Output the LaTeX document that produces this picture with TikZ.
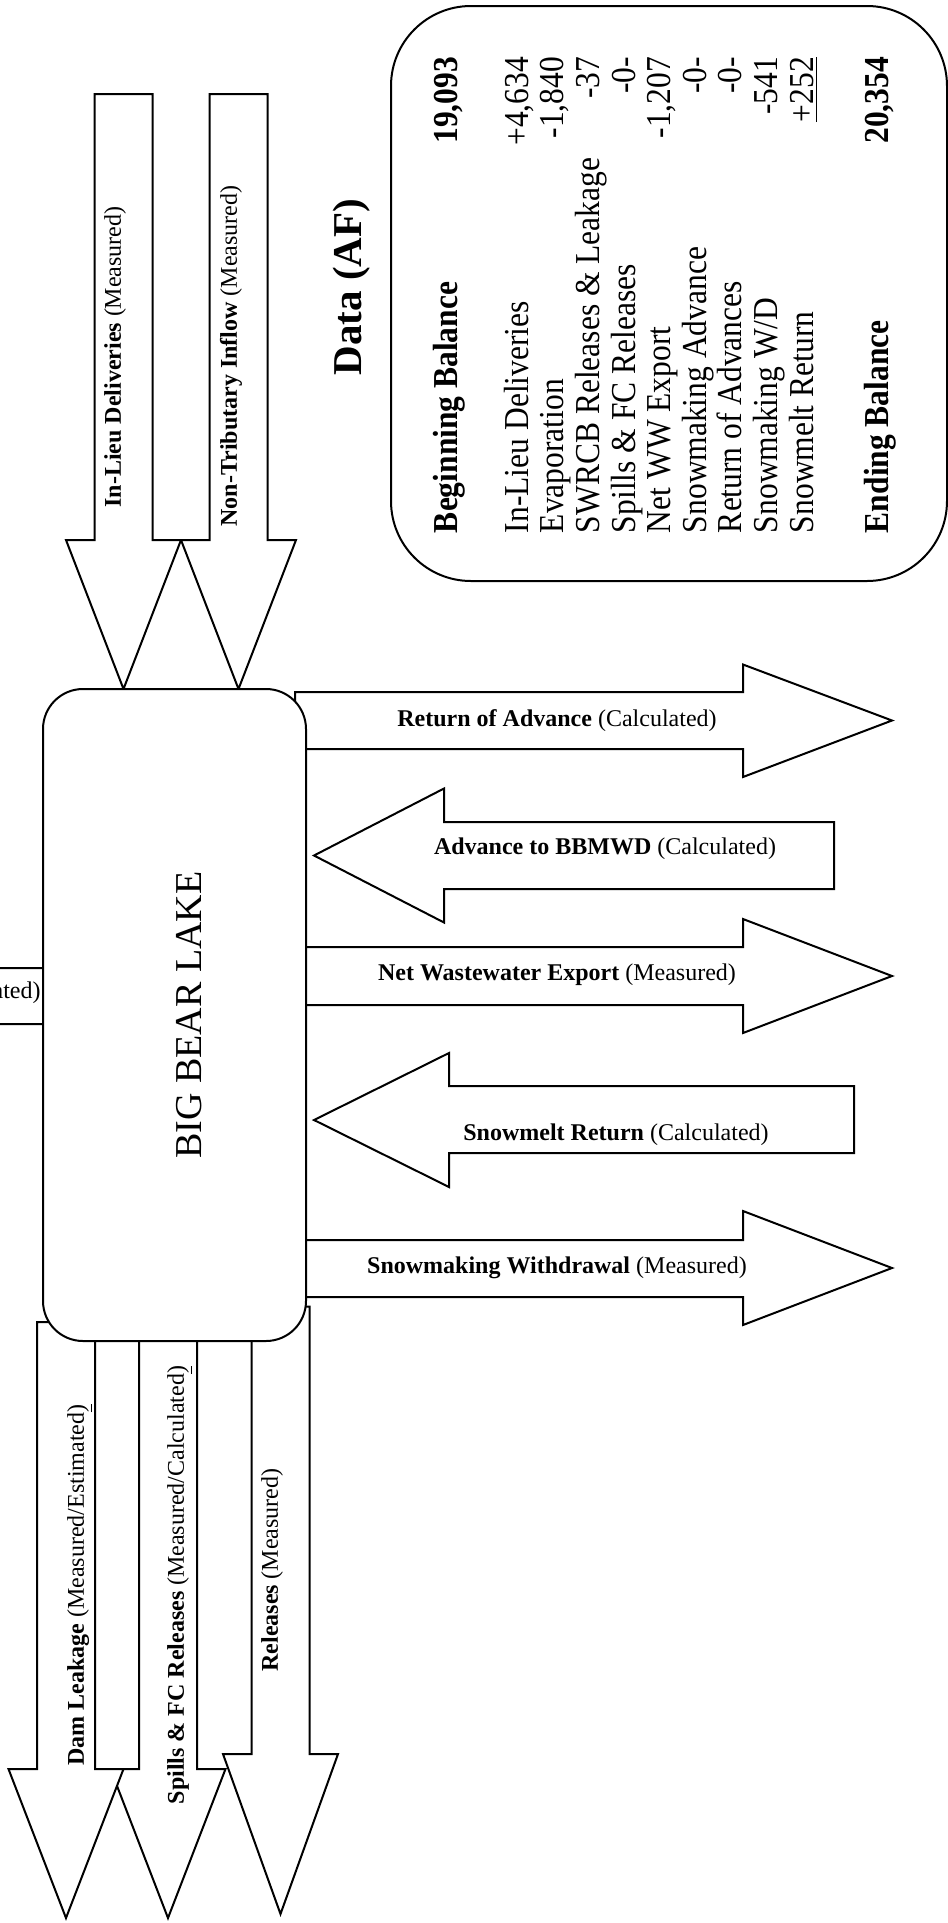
\documentclass[tikz,border=0pt]{standalone}
\usepackage{fontspec}
\setmainfont{Liberation Serif}
\newfontfamily\tablefont[FakeStretch=0.9]{Liberation Serif}

\begin{document}
\begin{tikzpicture}[x=0.5pt, y=-0.5pt,
  flow/.style={draw, fill=white, line width=1pt},
  panel/.style={draw, fill=white, line width=1pt, inner sep=0pt},
  lbl/.style={font=\fontsize{12}{14}\selectfont, inner sep=0pt}]
\useasboundingbox (0,0) rectangle (948,1923);
\clip (0,0) rectangle (948,1923);

% Flows into the lake
\draw[flow] (60,968) -- (-200,968) -- (-200,940) -- (-349,996) -- (-200,1052) -- (-200,1024) -- (60,1024) -- cycle;
\draw[flow] (94.5,94) -- (152.5,94) -- (152.5,540) -- (181,540) -- (123.5,689) -- (66,540) -- (94.5,540) -- cycle;
\draw[flow] (209.5,94) -- (267.5,94) -- (267.5,540) -- (296,540) -- (238.5,689) -- (181,540) -- (209.5,540) -- cycle;
\draw[flow] (834,822) -- (444,822) -- (444,788.5) -- (314,855.5) -- (444,922.5) -- (444,889) -- (834,889) -- cycle;
\draw[flow] (854,1086) -- (449,1086) -- (449,1053) -- (314,1120) -- (449,1187) -- (449,1153) -- (854,1153) -- cycle;

% Flows out of the lake
\draw[flow] (295,692) -- (743,692) -- (743,664.5) -- (892,720.5) -- (743,777) -- (743,749) -- (295,749) -- cycle;
\draw[flow] (295,947) -- (743,947) -- (743,919) -- (892,976) -- (743,1033) -- (743,1005) -- (295,1005) -- cycle;
\draw[flow] (295,1240) -- (743,1240) -- (743,1211) -- (892,1268) -- (743,1325) -- (743,1297) -- (295,1297) -- cycle;
\draw[flow] (139,1300) -- (197,1300) -- (197,1769) -- (225.5,1769) -- (168,1918) -- (110.5,1769) -- (139,1769) -- cycle;
\draw[flow] (37,1322) -- (95,1322) -- (95,1769) -- (123.5,1769) -- (66,1918) -- (8.5,1769) -- (37,1769) -- cycle;
\draw[flow] (251.5,1306.5) -- (309.5,1306.5) -- (309.5,1754) -- (338,1754) -- (280.5,1914) -- (223,1754) -- (251.5,1754) -- cycle;

% Lake and data panel
\node[panel, rounded corners=20pt, minimum width=131.5pt, minimum height=326pt] (lake) at (174.5,1015) {};
\node[rotate=90, inner sep=0pt, font=\fontsize{19}{22}\selectfont] (lakename) at (189,1015) {BIG BEAR LAKE};
\node[panel, rounded corners=40pt, minimum width=278pt, minimum height=287.5pt] (data) at (669,293.5) {};
\node[rotate=90, inner sep=0pt, font=\fontsize{20.5}{24}\selectfont\bfseries] (datatitle) at (352,287) {Data (AF)};
\node[rotate=90, inner sep=0pt, font=\tablefont\fontsize{17.5}{17.8}\selectfont] (datatable) at (666,295)
{\begin{tabular*}{238pt}{@{}l@{\extracolsep{\fill}}r@{}}
\textbf{Beginning Balance} & \textbf{19,093}\\[17.5pt]
In-Lieu Deliveries & +4,634\\
Evaporation & -1,840\\
SWRCB Releases \& Leakage & -37\\
Spills \& FC Releases & -0-\\
Net WW Export & -1,207\\
Snowmaking Advance & -0-\\
Return of Advances & -0-\\
Snowmaking W/D & -541\\
Snowmelt Return & \underline{+252}\\[20pt]
\textbf{Ending Balance} & \textbf{20,354}
\end{tabular*}};

% Flow labels
\path[every node/.style={lbl}]
(41,993) node[anchor=east] (evap) {\textbf{Evaporation} (Calculated)}
(115,357) node[rotate=90] (inlieu) {\textbf{In-Lieu Deliveries} (Measured)}
(231,356) node[rotate=90] (nontrib) {\textbf{Non-Tributary Inflow} (Measured)}
(557,721) node (retadv) {\textbf{Return of Advance} (Calculated)}
(605,849) node (advbbm) {\textbf{Advance to BBMWD} (Calculated)}
(557,975) node (netww) {\textbf{Net Wastewater Export} (Measured)}
(616,1135) node (snowret) {\textbf{Snowmelt Return} (Calculated)}
(557,1268) node (snowwd) {\textbf{Snowmaking Withdrawal} (Measured)}
(80,1585) node[rotate=90] (damleak) {\textbf{Dam Leakage} (Measured/Estimated\underline{)}}
(180,1585) node[rotate=90] (spills) {\textbf{Spills \& FC Releases} (Measured/Calculated\underline{)}}
(272,1570) node[rotate=90] (releases) {\textbf{Releases} (Measured)}
;

\end{tikzpicture}
\end{document}
